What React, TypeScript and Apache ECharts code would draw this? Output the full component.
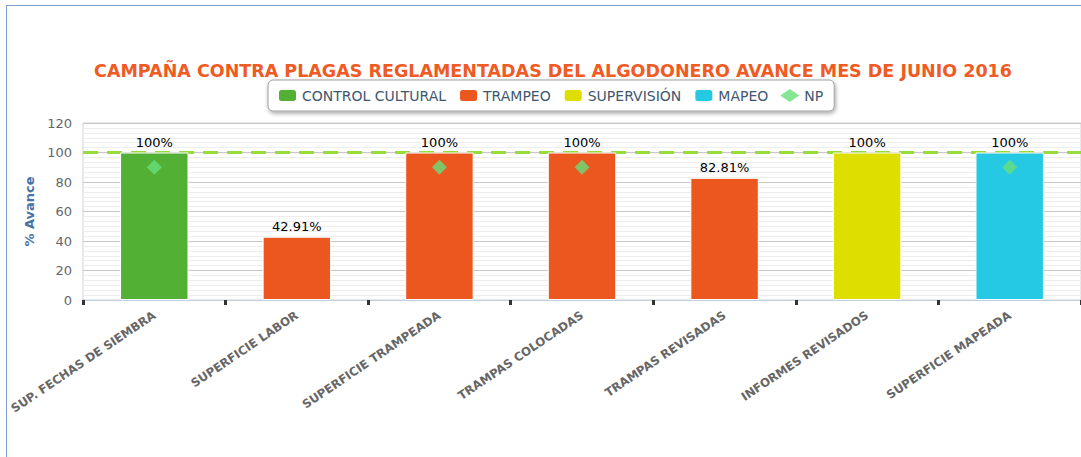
import React, { useEffect, useRef } from "react";
import * as echarts from "echarts";

const categories = [
  "SUP. FECHAS DE SIEMBRA",
  "SUPERFICIE LABOR",
  "SUPERFICIE TRAMPEADA",
  "TRAMPAS COLOCADAS",
  "TRAMPAS REVISADAS",
  "INFORMES REVISADOS",
  "SUPERFICIE MAPEADA",
];
const controlCultural = [100, null, null, null, null, null, null];
const trampeo = [null, 42.91, 100, 100, 82.81, null, null];
const supervision = [null, null, null, null, null, 100, null];
const mapeo = [null, null, null, null, null, null, 100];
const np = [90, null, 90, 90, null, null, 90];
const metaValue = 100;
const yTicks = [0, 20, 40, 60, 80, 100, 120];

const FONT = "DejaVu Sans, Verdana, sans-serif";

export default function App() {
  const ref = useRef<HTMLDivElement>(null);
  useEffect(() => {
    if (!ref.current) return;
    const chart = echarts.init(ref.current, null, { renderer: "svg" });
    const barLabel = {
      show: true,
      position: "top",
      distance: 4,
      color: "#000",
      fontFamily: FONT,
      fontSize: 13,
      formatter: (p: any) => (p.value == null ? "" : p.value + "%"),
    };
    const mk = (name: string, data: (number | null)[], color: string, extra: any = {}) => ({
      name,
      type: "bar",
      stack: "all",
      barWidth: "48%",
      data: data.map((v) => (v == null ? "-" : v)),
      itemStyle: { color, borderColor: "#fff", borderWidth: 1 },
      label: barLabel,
      z: 2,
      ...extra,
    });
    chart.setOption({
      animation: false,
      title: {
        text: "CAMPAÑA CONTRA PLAGAS REGLAMENTADAS DEL ALGODONERO AVANCE MES DE JUNIO 2016",
        left: 548,
        textAlign: "center",
        top: 57,
        textStyle: { color: "#f05a23", fontFamily: FONT, fontWeight: "bold", fontSize: 17.5 },
      },
      legend: {
        left: 268,
        top: 80,
        padding: [8, 11, 8, 9],
        itemGap: 12,
        itemWidth: 19,
        itemHeight: 13,
        borderColor: "#a0a0a0",
        borderWidth: 1,
        borderRadius: 5,
        backgroundColor: "#fff",
        shadowBlur: 4,
        shadowColor: "rgba(0,0,0,0.35)",
        shadowOffsetX: 1,
        shadowOffsetY: 2,
        textStyle: { color: "#3E576F", fontFamily: FONT, fontSize: 14 },
        data: [
          { name: "CONTROL CULTURAL", icon: "roundRect" },
          { name: "TRAMPEO", icon: "roundRect" },
          { name: "SUPERVISIÓN", icon: "roundRect" },
          { name: "MAPEO", icon: "roundRect" },
          { name: "NP", icon: "diamond" },
        ],
      },
      grid: { left: 83, top: 123, width: 1001, height: 177, show: true, borderColor: "#d0d0d0", borderWidth: 1 },
      xAxis: {
        type: "category",
        data: categories,
        boundaryGap: true,
        axisLine: { lineStyle: { color: "#c0d0e0", width: 1 } },
        axisTick: { show: true, length: 5, lineStyle: { color: "#333", width: 3 } },
        axisLabel: {
          interval: 0,
          rotate: 34,
          color: "#666",
          fontFamily: FONT,
          fontWeight: "bold",
          fontSize: 11.8,
          margin: 14,
        },
      },
      yAxis: {
        type: "value",
        min: 0,
        max: 120,
        interval: 20,
        name: "% Avance",
        nameLocation: "middle",
        nameGap: 45,
        nameTextStyle: { color: "#4572A7", fontFamily: FONT, fontWeight: "bold", fontSize: 13 },
        axisLine: { show: false },
        axisTick: { show: false },
        axisLabel: {
          color: "#666",
          fontFamily: FONT,
          fontSize: 13,
          margin: 11,
          formatter: (v: number) => (yTicks.includes(v) ? String(v) : ""),
        },
        splitLine: { lineStyle: { color: "#c8c8c8", width: 1 } },
        minorTick: { show: false, splitNumber: 6 },
        minorSplitLine: { show: true, lineStyle: { color: "#ededed", width: 1 } },
      },
      series: [
        mk("CONTROL CULTURAL", controlCultural, "#52b135", {
          markLine: {
            silent: true,
            z: 1,
            symbol: "none",
            label: { show: false },
            lineStyle: { color: "#96dc3c", type: [15, 9], width: 3 },
            data: [{ yAxis: metaValue }],
          },
        }),
        mk("TRAMPEO", trampeo, "#ec561f"),
        mk("SUPERVISIÓN", supervision, "#dede00"),
        mk("MAPEO", mapeo, "#26c9e4"),
        {
          name: "NP",
          type: "scatter",
          symbol: "diamond",
          symbolSize: 15,
          data: np.map((v) => (v == null ? "-" : v)),
          itemStyle: { color: "#66e07a" },
          z: 5,
        },
      ],
    });
    return () => chart.dispose();
  }, []);
  return (
    <div style={{ position: "absolute", left: 0, top: 0, width: 1081, height: 457, overflow: "hidden", background: "#fff" }}>
      <div
        style={{
          position: "absolute",
          left: 6,
          top: 5,
          width: 1200,
          height: 600,
          border: "1px solid #7f9dcc",
          boxSizing: "border-box",
        }}
      />
      <div ref={ref} style={{ position: "absolute", left: 0, top: 0, width: 1081, height: 457 }} />
    </div>
  );
}
